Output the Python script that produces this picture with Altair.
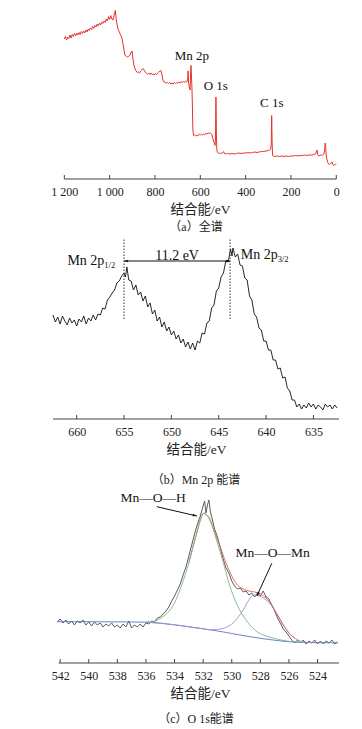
import altair as alt
import pandas as pd

FONT = "'Liberation Serif', 'Noto Sans CJK SC', serif"
W = 286

# ---------------- (a) survey spectrum ----------------
SURVEY_BE = [1200, 1195, 1190, 1185, 1180, 1175, 1170, 1165, 1160, 1155, 1150, 1145, 1140, 1135,
             1130, 1125, 1120, 1115, 1110, 1105, 1100, 1095, 1090, 1085, 1080, 1075, 1070, 1065,
             1060, 1055, 1050, 1045, 1040, 1035, 1030, 1025, 1020, 1015, 1010, 1005, 1000, 995,
             990, 985, 980, 975, 971, 967, 962, 957, 952, 947, 942, 938, 934, 930, 925, 920, 915,
             910, 905, 901, 897, 893, 888, 883, 878, 873, 868, 863, 858, 853, 848, 843, 838, 833,
             828, 823, 818, 813, 808, 803, 798, 793, 788, 783, 778, 774, 770, 765, 760, 755, 750,
             745, 740, 735, 730, 725, 720, 715, 710, 705, 700, 695, 690, 685, 680, 675, 670, 665,
             660, 656, 654, 652, 648, 645, 643, 641, 639, 637, 635, 633, 630, 625, 620, 615, 610,
             605, 600, 595, 590, 585, 580, 575, 570, 565, 560, 555, 550, 546, 542, 538, 535, 533,
             531, 529, 527, 524, 520, 515, 510, 505, 500, 497, 494, 490, 480, 470, 460, 450, 440,
             430, 420, 410, 400, 390, 380, 370, 360, 350, 340, 330, 320, 310, 300, 294, 290, 287,
             285, 283, 281, 277, 270, 260, 250, 240, 230, 220, 210, 200, 190, 180, 170, 160, 150,
             140, 130, 120, 110, 100, 92, 88, 85, 82, 78, 72, 66, 60, 55, 52, 49, 47, 45, 42, 38,
             34, 30, 26, 22, 19, 16, 12, 8, 4, 0]
SURVEY_I = [140, 142.5, 139, 142, 140.5, 144, 141, 144.5, 142.5, 145.5, 143, 146, 144, 146.5,
            144.5, 147.5, 145.5, 148, 146, 149, 147, 150, 148.5, 151, 149.5, 152.5, 150.5, 153.5,
            152, 155, 153, 156, 154, 157, 155.5, 158, 156.5, 160, 158, 162.5, 159.5, 163.5,
            160, 159, 164, 168.5, 160, 154, 149, 147, 144, 142, 136, 131, 125, 123, 122.5, 122, 123,
            124, 127, 128, 120, 114, 110, 108, 106.5, 107, 106, 108, 109, 110.5, 109, 107, 105.5, 105,
            106, 104.5, 106, 104.5, 105, 104, 105.5, 104.5, 106, 107, 108, 108.5, 105, 99, 97, 96.5, 96,
            96.5, 95.5, 96.5, 95, 96, 95, 96.5, 95.5, 96.5, 95.5, 97, 96, 97.5, 96.5, 97.5, 96.5, 98,
            97, 99, 108, 97, 91, 89, 105, 113.5, 103, 92, 75, 50, 43.5, 44, 43, 44, 43.5,
            44.5, 44, 45, 44, 45, 44.5, 45.5, 45, 46, 45.5, 46, 45, 42, 38, 36, 33.5, 40,
            82, 45, 29, 26.5, 26, 25.5, 26, 25.5, 26.5, 27.5, 26, 25, 25.5, 25, 25.5, 25, 25.5,
            26, 25.5, 26, 26, 26.5, 26, 26.5, 27, 26.5, 27, 27.5, 27.5, 28, 28.5, 29, 29.5, 35,
            63.5, 35, 23.5, 23, 22.5, 23, 22.5, 23, 22.5, 23, 22.5, 23, 23, 23.5, 23, 23.5, 23.5,
            24, 23.5, 24, 24, 24.5, 25, 27, 29, 24.5, 23, 23.5, 24, 24, 25, 28, 36, 34, 25, 20, 17,
            15, 14.5, 15, 16, 17, 15, 13.5, 14, 14.5, 15]
SURVEY_TICKS = [1200, 1000, 800, 600, 400, 200, 0]
SURVEY_SPAN = [1200, 0]
SURVEY_LABELS = ["Mn 2p", "O 1s", "C 1s"]
SURVEY_LABEL_BE = [637.5, 531.6, 284.6]
SURVEY_LABEL_I = [123, 93, 76]

# ---------------- (b) Mn 2p ----------------
MN_BE = [662.5, 662.25, 662.0, 661.75, 661.5, 661.25, 661.0, 660.75, 660.5, 660.25, 660.0, 659.75,
         659.5, 659.25, 659.0, 658.75, 658.5, 658.25, 658.0, 657.75, 657.5, 657.25, 657.0, 656.75,
         656.5, 656.25, 656.0, 655.75, 655.5, 655.25, 655.0, 654.85, 654.7, 654.5, 654.25, 654.0,
         653.75, 653.5, 653.25, 653.0, 652.75, 652.5, 652.25, 652.0, 651.75, 651.5, 651.25, 651.0,
         650.75, 650.5, 650.25, 650.0, 649.75, 649.5, 649.25, 649.0, 648.75, 648.5, 648.25, 648.0,
         647.75, 647.5, 647.25, 647.0, 646.75, 646.5, 646.25, 646.0, 645.75, 645.5, 645.25, 645.0,
         644.75, 644.5, 644.25, 644.0, 643.75, 643.6, 643.5, 643.25, 643.0, 642.75, 642.5, 642.25,
         642.0, 641.75, 641.5, 641.25, 641.0, 640.75, 640.5, 640.25, 640.0, 639.75, 639.5, 639.25,
         639.0, 638.75, 638.5, 638.25, 638.0, 637.75, 637.5, 637.25, 637.0, 636.75, 636.5, 636.25,
         636.0, 635.75, 635.5, 635.25, 635.0, 634.75, 634.5, 634.25, 634.0, 633.75, 633.5, 633.25,
         633.0, 632.75, 632.5]
MN_I = [104, 97, 102, 95, 103, 98, 94, 101, 96, 99, 93, 100,
        97, 103, 95, 101, 98, 104, 99, 105, 104, 111, 110, 119,
        122, 126, 129, 136, 138, 143, 146, 142, 152, 139, 138, 129,
        134, 124, 127, 118, 123, 112, 116, 105, 109, 98, 102, 92,
        97, 88, 92, 84, 88, 80, 84, 76, 80, 72, 77, 70,
        76, 69, 78, 76, 86, 85, 96, 98, 111, 114, 128, 131,
        142, 146, 158, 157, 170, 163, 171, 162, 165, 154, 153, 141,
        139, 123, 119, 105, 102, 91, 89, 78, 78, 69, 69, 59,
        59, 50, 51, 41, 42, 31, 28, 19, 19, 12, 15, 10,
        14, 11, 16, 12, 15, 10, 14, 12, 9, 15, 12, 14,
        10, 14, 11]
MN_TICKS = [660, 655, 650, 645, 640, 635]
MN_SPAN = [662.5, 632.3]
MN_PEAK_BE = [655.0, 643.8]
MN_GUIDE_LO = [100, 100]
MN_GUIDE_HI = [180, 180]
MN_SPLIT_I = 158
MN_SPLIT_TEXT = "11.2 eV"
MN_LABEL_BE = [660.98, 642.68]
MN_LABEL_I = [157.7, 164.3]
MN_SUB_BE = [657.08, 638.78]
MN_SUB_I = [153.8, 160.4]
MN_SUBS = ["1/2", "3/2"]

# ---------------- (c) O 1s ----------------
O_BE = [542.2, 542.0, 541.8, 541.6, 541.4, 541.2, 541.0, 540.8, 540.6, 540.4, 540.2, 540.0,
        539.8, 539.6, 539.4, 539.2, 539.0, 538.8, 538.6, 538.4, 538.2, 538.0, 537.8, 537.6,
        537.4, 537.2, 537.0, 536.8, 536.6, 536.4, 536.2, 536.0, 535.8, 535.6, 535.4, 535.2,
        535.0, 534.8, 534.6, 534.4, 534.2, 534.0, 533.8, 533.6, 533.4, 533.2, 533.0, 532.8,
        532.6, 532.4, 532.2, 532.0, 531.9, 531.8, 531.7, 531.6, 531.5, 531.4, 531.2, 531.0,
        530.8, 530.6, 530.4, 530.2, 530.0, 529.8, 529.6, 529.4, 529.2, 529.0, 528.8, 528.6,
        528.4, 528.2, 528.0, 527.8, 527.6, 527.4, 527.2, 527.0, 526.8, 526.6, 526.4, 526.2,
        526.0, 525.8, 525.6, 525.4, 525.2, 525.0, 524.8, 524.6, 524.4, 524.2, 524.0, 523.8,
        523.6, 523.4, 523.2, 523.0, 522.8, 522.6]
O_I = [41, 44, 40, 43, 39, 42, 38, 42, 40, 43, 38, 41,
       37, 41, 38, 40, 36, 39, 37, 40, 36, 38, 35, 39,
       36, 42, 35, 38, 36, 39, 36, 40, 39, 42, 41, 45,
       46, 49, 52, 56, 62, 67, 73, 79, 88, 96, 107, 118,
       129, 139, 147, 157, 162, 150, 158, 163, 152, 146, 134, 126,
       115, 104, 95, 90, 82, 77, 74, 75, 71, 72, 68, 70,
       66, 70, 67, 72, 66, 64, 58, 52, 45, 40, 34, 31,
       27, 23, 20, 23, 20, 23, 19, 22, 20, 23, 19, 22,
       19, 22, 20, 23, 19, 21]
BG_BE = [542.2, 541, 540, 539, 538, 537, 536, 535.5, 535, 534.5, 534, 533.5, 533, 532.5, 532,
         531.5, 531, 530.5, 530, 529.5, 529, 528.5, 528, 527.5, 527, 526.5, 526, 525.5, 525,
         524, 523, 522.6]
BG_I = [41.3, 41.3, 41.3, 41.2, 41.1, 41, 40.8, 40.4, 39.8, 39, 38.2, 37.2, 36.2, 35.2, 34.2,
        33.1, 32, 30.8, 29.5, 28.2, 27, 25.8, 24.7, 23.7, 22.8, 22, 21.3, 20.8, 20.5, 20.3, 20.2,
        20.2]
OH_BE = [536.0, 535.5, 535.0, 534.5, 534.0, 533.5, 533.0, 532.5, 532.2, 531.95, 531.7, 531.4,
         531.0, 530.6, 530.2, 529.8, 529.4, 529.0, 528.6, 528.2, 527.8, 527.0, 526.5, 526.0,
         525.5, 525.0]
OH_I = [40.9, 41.5, 44.5, 50, 60, 78, 100, 127, 142, 150, 147, 138,
        120, 101, 80, 64, 52, 43, 36, 31, 28, 24.5, 22.8, 21.6,
        21, 20.6]
OMN_BE = [536.0, 535.0, 534.0, 533.0, 532.0, 531.5, 531.0, 530.5, 530.0, 529.6, 529.2, 528.8,
          528.5, 528.2, 527.9, 527.6, 527.2, 526.8, 526.4, 526.0, 525.6, 525.2, 524.8, 524.4]
OMN_I = [40.8, 39.8, 38.2, 36.2, 34.2, 33.2, 33.5, 35, 39, 45, 53, 63,
         68, 67.5, 66, 63, 57, 48, 38, 30, 24.8, 22, 20.8, 20.4]
SUM_BE = [533.0, 532.5, 532.0, 531.6, 531.2, 530.8, 530.4, 530.0, 529.6, 529.2, 528.8, 528.4,
          528.0, 527.6, 527.2, 526.8, 526.4, 526.0, 525.6]
SUM_I = [100.5, 127.5, 149.5, 146, 131, 116, 100, 87, 78, 74, 72, 71,
         69, 65, 58, 48, 38.5, 30, 25]
O_TICKS = [542, 540, 538, 536, 534, 532, 530, 528, 526, 524]
O_SPAN = [542.1, 522.5]
O_LABELS = ["Mn—O—H", "Mn—O—Mn"]
O_LABEL_BE = [535.5, 527.14]
O_LABEL_I = [164.7, 109.7]
O_ARROW_BE = [535.24, 527.2]
O_ARROW_I = [156.3, 99.7]
O_ARROW_BE2 = [532.44, 528.24]
O_ARROW_I2 = [147, 67]
O_ARROW_ANGLE = [13, 114.6]


def make_x(domain, ticks, title_x):
    return alt.X(
        "be:Q",
        scale=alt.Scale(domain=domain, nice=False, zero=False),
        axis=alt.Axis(
            values=ticks, title="结合能/eV", domain=False, ticks=False, grid=False,
            labelExpr="replace(format(datum.value, ','), ',', ' ')",
            labelFont=FONT, labelFontSize=12, labelColor="#222", labelPadding=7,
            labelFlush=False, labelOverlap=False, labelBound=False,
            titleFont=FONT, titleFontSize=13.5, titleFontWeight="normal",
            titleColor="#222", titlePadding=5, titleX=title_x,
        ),
    )


def y_enc(top):
    return alt.Y("i:Q", scale=alt.Scale(domain=[0, top], nice=False, zero=False), axis=None)


def axis_layers(X, ticks, span, height):
    line = alt.Chart(pd.DataFrame({"be": [span[0]], "be2": [span[1]]})).mark_rule(
        color="#444", strokeWidth=1
    ).encode(x=X, x2="be2:Q", y=alt.value(height))
    tk = alt.Chart(pd.DataFrame({"be": ticks})).mark_rule(color="#444", strokeWidth=1).encode(
        x=X, y=alt.value(height - 4), y2=alt.value(height)
    )
    return [line, tk]


ARROW = "M0,0L-2.2,-0.7L-2.2,0.7Z"


def caption(text, offset):
    return alt.TitleParams(text, orient="bottom", font=FONT, fontSize=12, fontWeight="normal",
                           color="#222", offset=offset)


def text_layer(be, i, t, Y, X, size, align):
    return alt.Chart(pd.DataFrame({"be": be, "i": i, "t": t})).mark_text(
        font=FONT, fontSize=size, color="#111", baseline="middle", align=align
    ).encode(x=X, y=Y, text="t:N")


# ---- panel a
HA = 169
XA = make_x([1250, -12], SURVEY_TICKS, 147)
YA = y_enc(169)
a_line = alt.Chart(pd.DataFrame({"be": SURVEY_BE, "i": SURVEY_I})).mark_line(
    color="#e8332b", strokeWidth=1).encode(x=XA, y=YA)
a_txt = text_layer(SURVEY_LABEL_BE, SURVEY_LABEL_I, SURVEY_LABELS, YA, XA, 13, "center")
panel_a = alt.layer(a_line, a_txt, *axis_layers(XA, SURVEY_TICKS, SURVEY_SPAN, HA)).properties(
    width=W, height=HA, title=caption("（a）全谱", 6),
)

# ---- panel b
HB = 182
XB = make_x([662.5, 632.3], MN_TICKS, 143)
YB = y_enc(182)
b_line = alt.Chart(pd.DataFrame({"be": MN_BE, "i": MN_I})).mark_line(
    color="#111", strokeWidth=0.9).encode(x=XB, y=YB)
b_guides = alt.Chart(pd.DataFrame({"be": MN_PEAK_BE, "i": MN_GUIDE_LO, "i2": MN_GUIDE_HI})).mark_rule(
    color="#333", strokeWidth=1, strokeDash=[1.5, 1.5]
).encode(x=XB, y=YB, y2="i2:Q")
b_split = alt.Chart(pd.DataFrame({"be": [MN_PEAK_BE[0]], "be2": [MN_PEAK_BE[1]], "i": [MN_SPLIT_I]})).mark_rule(
    color="#111", strokeWidth=1
).encode(x=XB, x2="be2:Q", y=YB)
b_heads = alt.Chart(pd.DataFrame({"be": MN_PEAK_BE, "i": [MN_SPLIT_I, MN_SPLIT_I], "a": [180, 0]})).mark_point(
    shape=ARROW, filled=True, color="#111", size=14, opacity=1
).encode(x=XB, y=YB, angle=alt.Angle("a:Q", scale=None))
b_split_txt = text_layer([(MN_PEAK_BE[0] + MN_PEAK_BE[1]) / 2], [163.3], [MN_SPLIT_TEXT], YB, XB, 14, "center")
b_lbl = text_layer(MN_LABEL_BE, MN_LABEL_I, ["Mn 2p", "Mn 2p"], YB, XB, 14, "left")
b_sub = text_layer(MN_SUB_BE, MN_SUB_I, MN_SUBS, YB, XB, 8.5, "left")
panel_b = alt.layer(b_line, b_guides, b_split, b_heads, b_split_txt, b_lbl, b_sub,
                    *axis_layers(XB, MN_TICKS, MN_SPAN, HB)).properties(
    width=W, height=HB, title=caption("（b）Mn 2p 能谱", 19),
)

# ---- panel c
HC = 173
XC = make_x([542.5, 522.5], O_TICKS, 147)
YC = y_enc(173)
c_data = alt.Chart(pd.DataFrame({"be": O_BE, "i": O_I})).mark_line(
    color="#4a4a4a", strokeWidth=0.9).encode(x=XC, y=YC)


def fit(be, i, color):
    return alt.Chart(pd.DataFrame({"be": be, "i": i})).mark_line(
        color=color, strokeWidth=0.9, interpolate="monotone"
    ).encode(x=XC, y=YC)


c_bg = fit(BG_BE, BG_I, "#5b74c4")
c_omn = fit(OMN_BE, OMN_I, "#a68bd0")
c_sum = fit(SUM_BE, SUM_I, "#e2605c")
c_oh = fit(OH_BE, OH_I, "#78b58c")
c_arrows = alt.Chart(pd.DataFrame({"be": O_ARROW_BE, "i": O_ARROW_I, "be2": O_ARROW_BE2, "i2": O_ARROW_I2})).mark_rule(
    color="#111", strokeWidth=1
).encode(x=XC, y=YC, x2="be2:Q", y2="i2:Q")
c_heads = alt.Chart(pd.DataFrame({"be": O_ARROW_BE2, "i": O_ARROW_I2, "a": O_ARROW_ANGLE})).mark_point(
    shape=ARROW, filled=True, color="#111", size=14, opacity=1
).encode(x=XC, y=YC, angle=alt.Angle("a:Q", scale=None))
c_txt = text_layer(O_LABEL_BE, O_LABEL_I, O_LABELS, YC, XC, 13.5, "center")
panel_c = alt.layer(c_data, c_bg, c_omn, c_sum, c_oh, c_arrows, c_heads, c_txt,
                    *axis_layers(XC, O_TICKS, O_SPAN, HC)).properties(
    width=W, height=HC, title=caption("（c）O 1s能谱", 14),
)

chart = alt.vconcat(panel_a, panel_b, panel_c, spacing=4).properties(
    padding={"left": 42, "top": 0, "right": 4, "bottom": 0}
).configure_view(stroke=None).configure_axisX(labelOverlap=False)

chart.save("out.html", embed_options={"renderer": "svg", "actions": False})
